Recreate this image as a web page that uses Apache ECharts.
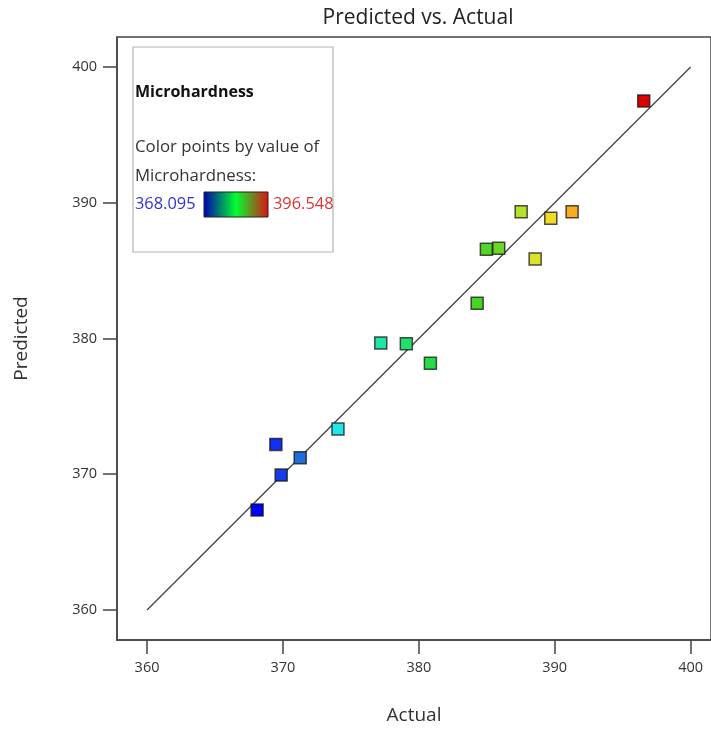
<!DOCTYPE html>
<html>
<head>
<meta charset="utf-8">
<script src="https://cdn.jsdelivr.net/npm/echarts@6/dist/echarts.min.js"></script>
<style>
html,body{margin:0;padding:0;background:#fff;}
#chart{width:711px;height:731px;}
</style>
</head>
<body>
<div id="chart"></div>
<script>
// Data
const actual = [368.10, 369.48, 369.87, 371.27, 374.05, 377.20, 379.08, 380.85, 384.29, 384.97, 385.88, 387.53, 388.56, 389.71, 391.28, 396.55];
const predicted = [367.37, 372.20, 369.94, 371.22, 373.33, 379.67, 379.62, 378.17, 382.59, 386.57, 386.64, 389.34, 385.86, 388.85, 389.34, 397.50];
const tickValues = [360, 370, 380, 390, 400];
const refLine = [[360, 360], [400, 400]];
const colorMin = 368.095;
const colorMax = 396.548;
const chartTitle = 'Predicted vs. Actual';
const xName = 'Actual';
const yName = 'Predicted';
const legendTitle = 'Microhardness';
const legendLine1 = 'Color points by value of';
const legendLine2 = 'Microhardness:';

const FONT = '"Open Sans", "Noto Sans", sans-serif';
const points = actual.map((a, i) => [a, predicted[i]]);

const chart = echarts.init(document.getElementById('chart'));
chart.setOption({
  animation: false,
  backgroundColor: '#fff',
  textStyle: { fontFamily: FONT },
  grid: {
    left: 117, top: 37, width: 594, height: 603,
    show: true, borderColor: '#444', borderWidth: 1.5, backgroundColor: '#fff'
  },
  xAxis: {
    type: 'value', min: 357.79, max: 401.5,
    name: xName, nameLocation: 'middle', nameGap: 66,
    nameTextStyle: { fontSize: 19, color: '#333', fontFamily: FONT },
    axisLine: { show: true, lineStyle: { color: '#444', width: 1.5 } },
    axisTick: { show: true, length: 14, customValues: tickValues, lineStyle: { color: '#444', width: 1.5 } },
    axisLabel: { customValues: tickValues, margin: 20, fontSize: 14.5, color: '#333', fontFamily: FONT },
    splitLine: { show: false }
  },
  yAxis: {
    type: 'value', min: 357.79, max: 402.21,
    name: yName, nameLocation: 'middle', nameGap: 86,
    nameTextStyle: { fontSize: 19, color: '#333', fontFamily: FONT },
    axisLine: { show: true, lineStyle: { color: '#444', width: 1.5 } },
    axisTick: { show: true, length: 14, customValues: tickValues, lineStyle: { color: '#444', width: 1.5 } },
    axisLabel: { customValues: tickValues, margin: 20, fontSize: 14.5, color: '#333', fontFamily: FONT },
    splitLine: { show: false }
  },
  visualMap: {
    show: false, type: 'continuous', seriesIndex: 1, dimension: 0,
    min: colorMin, max: colorMax,
    inRange: { color: ['#0000ff', '#1030f0', '#1d5fd8', '#20a0e8', '#22e6f2', '#20e8d0', '#1ee8b0', '#20e488', '#22e060', '#28dc48', '#30d830', '#3cd424', '#58d424', '#80d828', '#d0e42c', '#f0e428', '#f8b820', '#f89018', '#f06010', '#e83008', '#dd0000'] }
  },
  series: [
    {
      type: 'line', data: refLine, symbol: 'none', silent: true,
      lineStyle: { color: '#444', width: 1.3 }, z: 2
    },
    {
      type: 'scatter', data: points, symbol: 'rect', symbolSize: 12,
      itemStyle: { borderColor: 'rgba(20,20,20,0.75)', borderWidth: 1.5, opacity: 1 },
      z: 3
    }
  ],
  graphic: [
    { type: 'text', z: 11,
      style: { text: chartTitle, x: 418, y: 18, align: 'center', verticalAlign: 'middle', fontSize: 21, fill: '#222', fontFamily: FONT } },
    { type: 'rect', shape: { x: 133, y: 47, width: 200, height: 205 },
      style: { fill: '#fff', stroke: '#b5b5b5', lineWidth: 1.2 }, z: 10 },
    { type: 'text', z: 11, style: { text: legendTitle, x: 135, y: 92, verticalAlign: 'middle', fontSize: 16, fontWeight: 'bold', fill: '#111', fontFamily: FONT } },
    { type: 'text', z: 11, style: { text: legendLine1, x: 135, y: 147, verticalAlign: 'middle', fontSize: 16.8, fill: '#333', fontFamily: FONT } },
    { type: 'text', z: 11, style: { text: legendLine2, x: 135, y: 176, verticalAlign: 'middle', fontSize: 16.8, fill: '#333', fontFamily: FONT } },
    { type: 'text', z: 11, style: { text: String(colorMin), x: 135, y: 204, verticalAlign: 'middle', fontSize: 16.4, fill: '#3333cc', fontFamily: FONT } },
    { type: 'rect', z: 11, shape: { x: 204, y: 192, width: 64, height: 25 },
      style: { stroke: '#222', lineWidth: 1,
        fill: new echarts.graphic.LinearGradient(0, 0, 1, 0, [
          { offset: 0, color: '#0000b0' }, { offset: 0.5, color: '#00ff30' }, { offset: 1, color: '#e01010' }
        ]) } },
    { type: 'text', z: 11, style: { text: String(colorMax), x: 273, y: 204, verticalAlign: 'middle', fontSize: 16.4, fill: '#dd3333', fontFamily: FONT } }
  ]
});
</script>
</body>
</html>
